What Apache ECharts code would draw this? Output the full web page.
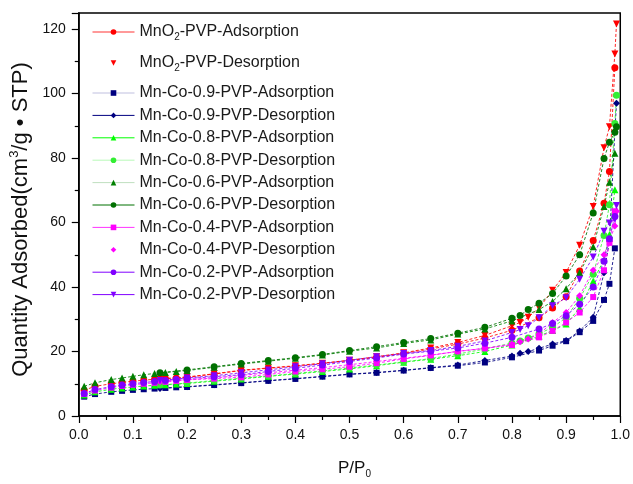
<!DOCTYPE html>
<html><head><meta charset="utf-8">
<script src="https://cdn.jsdelivr.net/npm/echarts@6/dist/echarts.min.js"></script>
<style>html,body{margin:0;padding:0;background:#fff}#c{width:633px;height:484px}</style>
</head><body><div id="c"></div>
<script>
// Relative pressure points
const pAds = [0.01,0.03,0.06,0.08,0.10,0.12,0.14,0.16,0.18,0.20,0.25,0.30,0.35,0.40,0.45,0.50,0.55,0.60,0.65,0.70,0.75,0.80,0.85,0.875,0.90,0.925,0.95,0.97,0.98,0.99];
const pDes = [0.993,0.99,0.98,0.97,0.95,0.925,0.90,0.875,0.85,0.83,0.815,0.80,0.75,0.70,0.65,0.60,0.55,0.50,0.45,0.40,0.35,0.30,0.25,0.20,0.15];

// Quantity adsorbed (cm3/g STP)
const mno2Ads = [8.0,9.2,10.0,10.4,10.8,11.1,11.4,11.6,11.8,12.0,13.0,14.1,14.8,15.5,16.3,17.2,18.2,19.4,20.8,22.3,24.2,26.6,30.5,33.5,37.0,45.0,54.4,66.0,75.8,108.0];
const mno2Des = [121.6,112.3,89.7,83.2,65.0,53.0,44.5,39.0,33.5,30.6,29.0,28.0,25.0,22.8,21.1,19.6,18.4,17.3,16.4,15.6,14.9,14.2,13.1,12.1,11.5];
const co09Ads = [6.0,6.8,7.5,7.8,8.1,8.3,8.5,8.7,8.9,9.0,9.6,10.2,10.9,11.5,12.2,12.9,13.4,14.1,14.9,15.6,16.6,18.2,20.3,21.8,23.2,26.0,29.5,36.0,41.0,52.0];
const co09Des = [97.0,88.2,54.2,44.4,30.6,26.4,23.4,22.3,21.0,20.0,19.5,18.6,17.2,15.8,15.0,14.2,13.5,13.0,12.3,11.6,11.0,10.3,9.7,9.1,8.5];
const co08Ads = [6.5,7.5,8.3,8.7,9.0,9.3,9.5,9.7,9.9,10.1,10.8,11.5,12.3,13.0,13.8,14.6,15.6,16.7,17.6,18.7,20.0,22.0,24.8,26.5,28.5,33.5,41.9,48.5,56.3,70.2];
const co08Des = [99.5,90.7,65.5,56.0,44.0,36.5,30.5,27.5,25.5,24.2,23.3,22.6,20.8,19.2,17.8,16.8,15.8,14.9,14.0,13.2,12.4,11.7,11.0,10.2,9.6];
const co06Ads = [9.2,10.3,11.3,11.8,12.3,12.8,13.2,13.5,13.8,14.1,15.1,16.1,17.0,17.9,18.9,20.1,21.1,22.5,23.6,25.4,27.0,29.5,33.0,35.5,39.5,44.5,52.5,65.0,72.5,81.5];
const co06Des = [89.7,88.0,84.9,79.9,63.0,50.0,43.4,38.0,35.0,33.0,31.2,30.3,27.5,25.7,24.0,22.8,21.5,20.3,19.1,18.1,17.2,16.3,15.3,14.3,13.4];
const co04Ads = [6.8,7.9,8.8,9.3,9.7,10.0,10.3,10.6,10.9,11.2,11.6,12.0,12.9,13.8,14.5,15.3,16.4,17.7,18.8,20.1,21.0,22.0,24.4,26.4,29.0,32.1,36.9,45.2,53.7,63.5];
const co04Des = [63.5,58.9,54.2,50.0,45.2,37.3,32.1,29.0,25.4,23.9,23.0,22.3,21.0,20.0,18.9,17.9,16.9,15.9,15.0,14.2,13.4,12.6,11.8,11.3,10.6];
const co02Ads = [7.0,8.2,9.1,9.6,10.0,10.4,10.7,11.0,11.3,11.6,12.2,12.8,13.8,14.8,15.8,16.9,18.0,19.2,20.1,21.1,22.6,24.4,27.0,28.7,31.1,34.7,40.0,48.0,55.0,61.9];
const co02Des = [65.3,61.0,59.9,57.3,49.3,42.4,36.7,34.2,30.5,28.0,26.8,25.9,23.3,21.6,20.3,19.4,18.4,17.3,16.2,15.3,14.3,13.4,12.5,11.8,11.0];

const seriesNames = ['MnO2-PVP-Adsorption','MnO2-PVP-Desorption','Mn-Co-0.9-PVP-Adsorption','Mn-Co-0.9-PVP-Desorption','Mn-Co-0.8-PVP-Adsorption','Mn-Co-0.8-PVP-Desorption','Mn-Co-0.6-PVP-Adsorption','Mn-Co-0.6-PVP-Desorption','Mn-Co-0.4-PVP-Adsorption','Mn-Co-0.4-PVP-Desorption','Mn-Co-0.2-PVP-Adsorption','Mn-Co-0.2-PVP-Desorption'];
const seriesValues = [mno2Ads,mno2Des,co09Ads,co09Des,co08Ads,co08Des,co06Ads,co06Des,co04Ads,co04Des,co02Ads,co02Des];
const seriesP = [pAds,pDes,pAds,pDes,pAds,pDes,pAds,pDes,pAds,pDes,pAds,pDes];
const xTicks = [0,0.1,0.2,0.3,0.4,0.5,0.6,0.7,0.8,0.9,1.0];

// styles
const colors = ['#ff0000','#ff0000','#000080','#000080','#00ff00','#33ee33','#008000','#007000','#ff00ff','#ff00ff','#8000ff','#8000ff'];
const symbols = ['circle','triangle','rect','diamond','triangle','circle','triangle','circle','rect','diamond','circle','triangle'];
const rotates = [0,180,0,0,0,0,0,0,0,0,0,180];
const legendLine = [0.8,0,0.25,1,1,0.35,0.25,1,0.8,0,1,1];
const FONT = 'Liberation Sans, Arial, sans-serif';

const series = seriesNames.map((n,i)=>({
  name:n, type:'line', symbol:symbols[i], symbolRotate:rotates[i],
  symbolSize: symbols[i]==='rect'?6:7,
  itemStyle:{color:colors[i]},
  lineStyle:{color:colors[i], width:1, type:[3,2], opacity:0.85},
  data: seriesP[i].map((p,k)=>[p, seriesValues[i][k]]),
  animation:false, z: 2
}));

const fmt = n => n.startsWith('MnO2') ? 'MnO{sub|2}' + n.slice(4) : n;
const legendText = {fontFamily:FONT, fontSize:16, color:'#1a1a1a', lineHeight:16,
  rich:{sub:{fontSize:10, fontFamily:FONT, color:'#1a1a1a', padding:[10,0,0,0]}}};
const legendData = seriesNames.map((n,i)=>({name:n, lineStyle:{opacity:legendLine[i], type:'solid', width:1}}));

const chart = echarts.init(document.getElementById('c'), null, {renderer:'canvas'});
chart.setOption({
  backgroundColor:'#fff',
  animation:false,
  grid:{left:78, top:13, right:10, bottom:65, show:true, borderColor:'#000', borderWidth:1.5, backgroundColor:'transparent'},
  legend:[
    {orient:'vertical', left:87, top:19, itemWidth:42, itemHeight:7, itemGap:13, data:legendData.slice(0,2),
     textStyle:legendText, formatter:fmt, selectedMode:false},
    {orient:'vertical', left:87, top:80, itemWidth:42, itemHeight:7, itemGap:6.4, data:legendData.slice(2),
     textStyle:legendText, formatter:fmt, selectedMode:false}
  ],
  xAxis:{type:'value', min:0, max:1, interval:0.1,
    axisLine:{lineStyle:{color:'#000', width:1.5}},
    axisTick:{inside:false, length:7, lineStyle:{color:'#000', width:1.2}},
    minorTick:{show:true, splitNumber:2, length:4, lineStyle:{color:'#000', width:1.2}},
    splitLine:{show:false},
    axisLabel:{color:'#111', fontSize:14, fontFamily:FONT, margin:12,
      formatter:v=> xTicks.some(t=>Math.abs(t-v)<1e-9) ? v.toFixed(1) : ''},
    name:'P/P{sub|0}', nameLocation:'middle', nameGap:41,
    nameTextStyle:{color:'#111', fontSize:17, fontFamily:FONT, padding:[0,0,0,10],
      rich:{sub:{fontSize:10, fontFamily:FONT, color:'#111', padding:[12,0,0,0]}}}
  },
  yAxis:{type:'value', min:0, max:125, interval:20,
    axisLine:{lineStyle:{color:'#000', width:1.5}},
    axisTick:{inside:false, length:7, lineStyle:{color:'#000', width:1.2}},
    minorTick:{show:true, splitNumber:2, length:4, lineStyle:{color:'#000', width:1.2}},
    splitLine:{show:false},
    axisLabel:{color:'#111', fontSize:14, fontFamily:FONT, margin:13, showMaxLabel:false},
    name:'Quantity Adsorbed(cm{sup|3}/g \u2022 STP)', nameLocation:'middle', nameGap:34,
    nameTextStyle:{color:'#111', fontSize:22, fontFamily:FONT, padding:[0,10,0,0],
      rich:{sup:{fontSize:13, fontFamily:FONT, color:'#111', padding:[0,0,12,0]}}}
  },
  series: series
});
</script></body></html>
